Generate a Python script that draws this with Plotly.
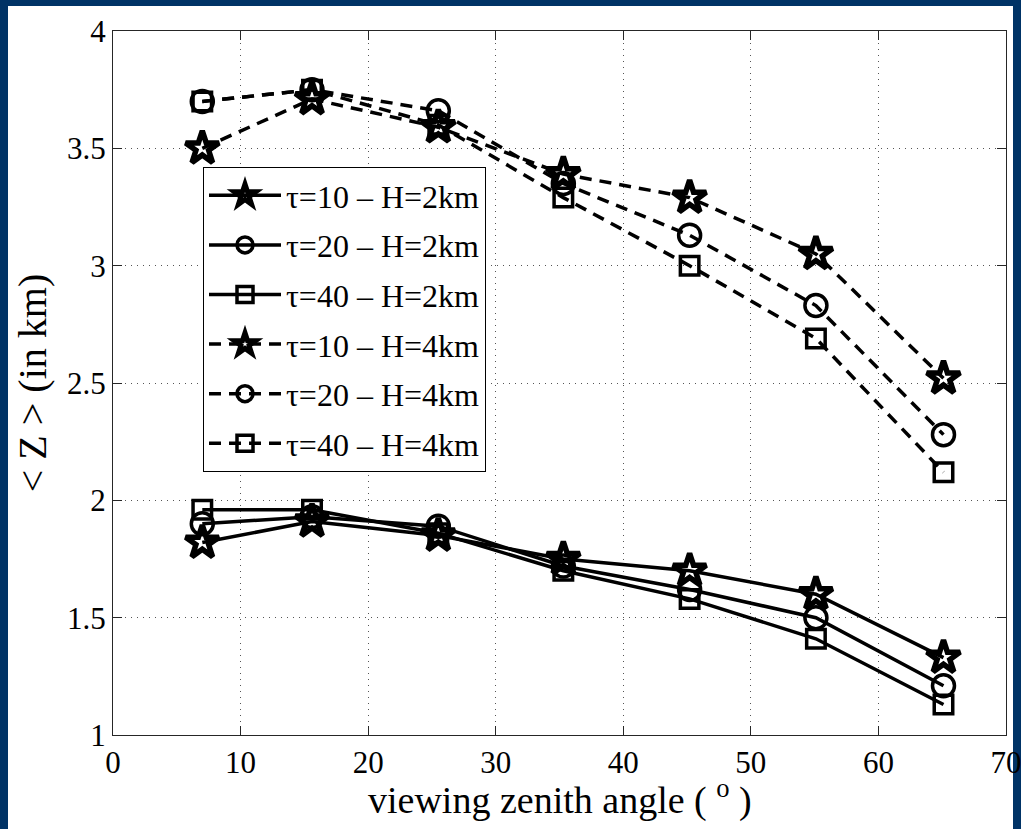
import plotly.graph_objects as go

angles = [7.0, 15.6, 25.5, 35.3, 45.2, 55.1, 65.1]

z_t10_h2 = [1.82, 1.91, 1.85, 1.75, 1.70, 1.60, 1.33]
z_t20_h2 = [1.90, 1.93, 1.89, 1.72, 1.62, 1.50, 1.21]
z_t40_h2 = [1.96, 1.96, 1.86, 1.70, 1.58, 1.41, 1.13]
z_t10_h4 = [3.50, 3.71, 3.59, 3.39, 3.29, 3.05, 2.52]
z_t20_h4 = [3.70, 3.75, 3.66, 3.35, 3.13, 2.83, 2.28]
z_t40_h4 = [3.70, 3.75, 3.60, 3.29, 3.00, 2.69, 2.12]

names = ["τ=10 – H=2km", "τ=20 – H=2km", "τ=40 – H=2km",
         "τ=10 – H=4km", "τ=20 – H=4km", "τ=40 – H=4km"]
series = [z_t10_h2, z_t20_h2, z_t40_h2, z_t10_h4, z_t20_h4, z_t40_h4]
symbols = ["star-open", "circle-open", "square-open"] * 2
sizes = [25, 22, 18.5] * 2
mlw = [5.5, 3.5, 3.5] * 2
dashes = ["solid"] * 3 + ["12px,8px"] * 3

XTITLE = "viewing zenith angle ( <sup>o</sup> )"
YTITLE = "&lt; Z &gt; (in km)"

FONT = "Liberation Serif"
W, H = 1021, 829
ML, MR, MT, MB = 113, 15, 31, 94
PW, PH = W - ML - MR, H - MT - MB

fig = go.Figure()
for i, (nm, ys) in enumerate(zip(names, series)):
    fig.add_trace(go.Scatter(
        x=angles, y=ys, name=nm, mode="lines+markers",
        legendgroup=f"g{i}",
        line=dict(color="black", width=3.5, dash=dashes[i]),
        marker=dict(symbol=symbols[i], size=sizes[i], color="black",
                    line=dict(color="black", width=mlw[i])),
    ))

def px2paper_x(px):
    return (px - ML) / PW

def px2paper_y(py):
    return (H - MB - py) / PH

fig.add_shape(type="rect", xref="paper", yref="paper", layer="below",
              x0=px2paper_x(8), x1=px2paper_x(1013),
              y0=px2paper_y(829), y1=px2paper_y(6),
              fillcolor="white", line=dict(width=0))

fig.add_annotation(text=XTITLE, xref="paper", yref="paper",
                   x=0.5, y=px2paper_y(797), xanchor="center", yanchor="middle",
                   showarrow=False, font=dict(family=FONT, size=38, color="black"))

axis_common = dict(
    showline=True, linecolor="#262626", linewidth=1, mirror="ticks",
    ticks="inside", ticklen=9, tickcolor="#262626", tickwidth=1,
    showgrid=True, gridcolor="#555555", gridwidth=1, griddash="1px,5px",
    zeroline=False, automargin=False, ticklabeloverflow="allow",
    tickfont=dict(family=FONT, size=31, color="black"),
)

fig.update_xaxes(range=[0, 70], dtick=10, tick0=0, **axis_common)
fig.update_yaxes(range=[1, 4], dtick=0.5, tick0=1,
                 title=dict(text=YTITLE,
                            font=dict(family=FONT, size=40, color="black"),
                            standoff=8),
                 **axis_common)

fig.update_layout(
    width=W, height=H,
    margin=dict(l=ML, r=MR, t=MT, b=MB, pad=0, autoexpand=False),
    paper_bgcolor="#003366", plot_bgcolor="white",
    font=dict(family=FONT, color="black"),
    legend=dict(x=px2paper_x(203), y=px2paper_y(167), xanchor="left", yanchor="top",
                bgcolor="white", bordercolor="black", borderwidth=1,
                font=dict(family=FONT, size=32, color="black"),
                itemwidth=72,
                traceorder="grouped", tracegroupgap=5),
    showlegend=True,
)

fig.write_html("out.html")
